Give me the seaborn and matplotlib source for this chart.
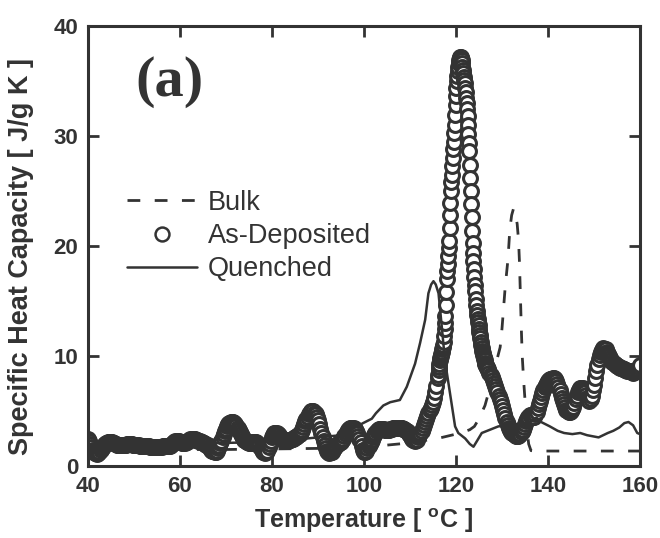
import numpy as np
import matplotlib
matplotlib.use("Agg")
import matplotlib.pyplot as plt
from matplotlib.lines import Line2D
import seaborn as sns

# ---------------- data ----------------
x_ticks = [40, 60, 80, 100, 120, 140, 160]
y_ticks = [0, 10, 20, 30, 40]
series_names = ["Bulk", "As-Deposited", "Quenched"]

bulk_T = [40, 50, 60, 70, 80, 90, 100, 105, 110, 113, 116, 119, 121, 123, 124, 125,
          126.3, 127.5, 128.5, 129.6, 130.0, 130.7, 131.3, 131.7, 132.1, 132.5, 132.9,
          133.3, 133.6, 133.8, 134.0, 134.2, 134.4, 134.7, 135.0, 135.4, 135.8, 136.3,
          137, 145, 160]
bulk_cp = [1.5, 1.5, 1.5, 1.5, 1.55, 1.6, 1.75, 1.9, 2.1, 2.3, 2.5, 2.8, 3.0, 3.3, 3.6, 4.3,
           5.5, 7.3, 9.0, 10.8, 12.5, 16.3, 18.8, 21.5, 22.8, 23.4, 23.0,
           22.0, 20.5, 18.5, 15.5, 12.5, 10.0, 7.8, 6.0, 3.5, 2.0, 1.4,
           1.36, 1.36, 1.36]

quen_T = [40, 60, 80, 95, 99.8, 101.7, 102.6, 104.2, 105.7, 107.8, 109.3, 111.1, 112.2,
          113.3, 114.0, 114.6, 115.1, 115.6, 116.2, 116.9, 117.6, 118.7, 119.8, 120.5,
          122.0, 123.0, 123.8, 124.6, 125.6, 127.4, 129.2, 131.0, 133.2, 135.3, 137.5,
          138.5, 140.4, 142.1, 143.5, 145.3, 147.0, 148.5, 151.0, 153.0, 154.2, 155.5,
          156.6, 157.5, 158.5, 159.4, 160.0]
quen_cp = [2.0, 2.0, 2.2, 2.8, 3.9, 4.3, 4.8, 5.5, 5.8, 6.0, 7.2, 9.3, 11.2,
           13.3, 15.7, 16.5, 16.8, 16.5, 15.7, 12.7, 9.6, 6.6, 3.6, 3.0,
           2.5, 2.0, 1.75, 2.3, 3.0, 3.3, 3.6, 3.7, 3.8, 3.8, 4.4,
           4.0, 3.6, 3.2, 3.0, 2.9, 3.0, 2.8, 2.6, 3.0, 3.2, 3.5,
           3.9, 4.0, 3.7, 3.0, 2.9]

# As-Deposited: 40.00-115.75 every 0.25 C (one row per degree)
asdep_cp_low = [
    2.5, 2.3, 2.0, 1.75,   1.5, 1.35, 1.2, 1.15,   1.1, 1.2, 1.3, 1.45,
    1.6, 1.75, 1.9, 2.0,   2.1, 2.15, 2.2, 2.2,    2.2, 2.15, 2.1, 2.05,
    2.0, 1.95, 1.9, 1.9,   1.9, 1.9, 1.9, 1.9,     1.9, 1.95, 2.0, 2.0,
    2.0, 2.0, 2.0, 1.95,   1.9, 1.9, 1.9, 1.9,     1.9, 1.85, 1.8, 1.8,
    1.8, 1.8, 1.8, 1.8,    1.8, 1.8, 1.75, 1.7,    1.7, 1.7, 1.7, 1.7,
    1.7, 1.7, 1.7, 1.7,    1.75, 1.8, 1.8, 1.8,    1.8, 1.8, 1.8, 1.85,
    1.9, 2.0, 2.1, 2.2,    2.3, 2.3, 2.3, 2.25,    2.2, 2.15, 2.1, 2.1,
    2.1, 2.15, 2.2, 2.3,   2.4, 2.45, 2.5, 2.5,    2.5, 2.45, 2.4, 2.35,
    2.3, 2.25, 2.2, 2.15,  2.1, 2.05, 2.0, 1.95,   1.9, 1.75, 1.6, 1.5,
    1.4, 1.35, 1.3, 1.3,   1.4, 1.6, 1.8, 2.05,    2.3, 2.6, 2.9, 3.15,
    3.4, 3.6, 3.8, 3.9,    4.0, 4.0, 4.0, 3.9,     3.8, 3.65, 3.5, 3.3,
    3.1, 2.9, 2.7, 2.55,   2.4, 2.3, 2.2, 2.15,    2.1, 2.1, 2.1, 2.15,
    2.2, 2.2, 2.2, 2.1,    2.0, 1.8, 1.6, 1.45,    1.3, 1.25, 1.2, 1.3,
    1.4, 1.7, 2.0, 2.3,    2.6, 2.8, 3.0, 3.0,     3.0, 2.9, 2.8, 2.65,
    2.5, 2.45, 2.4, 2.35,  2.3, 2.3, 2.3, 2.35,    2.4, 2.45, 2.5, 2.55,
    2.6, 2.65, 2.7, 2.8,   2.9, 3.1, 3.3, 3.55,    3.8, 4.05, 4.3, 4.5,
    4.7, 4.85, 5.0, 5.0,   5.0, 4.85, 4.7, 4.45,   4.2, 3.8, 3.4, 3.0,
    2.6, 2.25, 1.9, 1.6,   1.4, 1.3, 1.2, 1.25,    1.3, 1.45, 1.6, 1.75,
    1.9, 2.0, 2.1, 2.15,   2.2, 2.35, 2.5, 2.7,    2.9, 3.1, 3.3, 3.4,
    3.5, 3.5, 3.5, 3.45,   3.4, 3.2, 3.0, 2.75,    2.5, 2.15, 1.8, 1.5,
    1.3, 1.3, 1.4, 1.6,    1.8, 2.0, 2.2, 2.4,     2.6, 2.8, 3.0, 3.15,
    3.3, 3.35, 3.4, 3.4,   3.4, 3.35, 3.3, 3.3,    3.3, 3.3, 3.3, 3.35,
    3.4, 3.45, 3.5, 3.5,   3.5, 3.5, 3.5, 3.5,     3.5, 3.45, 3.4, 3.35,
    3.3, 3.2, 3.1, 2.95,   2.8, 2.65, 2.5, 2.4,    2.3, 2.35, 2.4, 2.6,
    2.8, 3.0, 3.2, 3.45,   3.7, 4.0, 4.3, 4.55,    4.8, 5.05, 5.3, 5.55,
    5.8, 6.2, 6.7, 7.3]
# As-Deposited: 116.0-127.0 every 0.1 C (melting peak)
asdep_cp_peak = [8.0, 8.3, 8.7, 9.0, 9.3, 9.6, 9.8, 10.0, 10.2, 10.4,
                 10.6, 10.8, 11.0, 11.3, 11.8, 12.5, 13.0, 13.6, 14.6, 15.8,
                 17.0, 17.7, 18.4, 19.1, 19.8, 20.5, 21.6, 22.8, 23.9, 25.0,
                 25.8, 26.5, 27.3, 28.0, 28.8, 29.5, 30.3, 31.0, 31.9, 32.8,
                 33.6, 34.4, 35.0, 35.5, 35.9, 36.3, 36.6, 36.9, 37.1, 37.2,
                 37.2, 37.1, 36.9, 36.6, 36.3, 36.0, 35.7, 35.4, 35.1, 34.8,
                 34.4, 34.0, 33.5, 33.0, 32.5, 31.8, 31.0, 30.2, 29.4, 28.6,
                 27.4, 26.2, 25.0, 23.8, 22.6, 21.4, 20.3, 19.4, 18.6, 17.9,
                 17.2, 16.5, 15.9, 15.2, 14.6, 14.1, 13.7, 13.4, 13.1, 12.8,
                 12.5, 12.2, 11.9, 11.6, 11.3, 11.0, 10.7, 10.5, 10.3, 10.1,
                 9.9, 9.7, 9.6, 9.4, 9.3, 9.2, 9.1, 9.0, 8.9, 8.8, 8.7]
# As-Deposited: 127.25-160.0 every 0.25 C
asdep_cp_high = [
    8.5, 8.3, 8.05,
    7.8, 7.55, 7.3, 7.0,    6.7, 6.4, 6.1, 5.8,     5.5, 5.1, 4.7, 4.35,
    4.0, 3.75, 3.5, 3.3,    3.1, 3.0, 2.9, 2.8,     2.7, 2.7, 2.7, 2.8,
    2.9, 3.1, 3.3, 3.55,    3.8, 4.05, 4.3, 4.5,    4.6, 4.6, 4.5, 4.5,
    4.5, 4.7, 4.9, 5.25,    5.6, 5.95, 6.3, 6.6,    6.9, 7.15, 7.4, 7.55,
    7.7, 7.8, 7.9, 7.95,    8.0, 8.0, 7.9, 7.7,     7.5, 7.2, 6.9, 6.55,
    6.2, 5.9, 5.6, 5.35,    5.1, 5.0, 4.9, 4.95,    5.0, 5.2, 5.4, 5.75,
    6.1, 6.4, 6.7, 6.9,     7.1, 7.1, 7.1, 6.9,     6.7, 6.45, 6.2, 6.05,
    5.9, 6.1, 6.4, 6.9,     7.4, 8.0, 8.6, 9.15,    9.7, 10.05, 10.4, 10.55,
    10.7, 10.65, 10.6, 10.4, 10.2, 10.0, 9.8, 9.65, 9.5, 9.4, 9.3, 9.2,
    9.1, 9.05, 9.0, 8.95,   8.9, 8.85, 8.8, 8.75,   8.7, 8.65, 8.6, 8.6,
    8.6, 8.55, 8.5, 8.55,   8.6, 8.7, 8.8, 9.0,     9.2]

asdep_T = np.concatenate([40.0 + 0.25 * np.arange(len(asdep_cp_low)),
                          116.0 + 0.1 * np.arange(len(asdep_cp_peak)),
                          127.25 + 0.25 * np.arange(len(asdep_cp_high))])
asdep_cp = np.concatenate([asdep_cp_low, asdep_cp_peak, asdep_cp_high])

# ---------------- style ----------------
sns.set_style("ticks")
C = "#333333"
plt.rcParams["font.family"] = ["Liberation Sans", "DejaVu Sans"]
plt.rcParams["mathtext.fontset"] = "custom"
plt.rcParams["mathtext.rm"] = "Liberation Sans"
plt.rcParams["mathtext.bf"] = "Liberation Sans:bold"

fig = plt.figure(figsize=(6.6, 5.38), dpi=100)
ax = fig.add_axes([88 / 660, 1 - 466 / 538, 552 / 660, 440 / 538])

sns.scatterplot(x=asdep_T, y=asdep_cp, ax=ax, marker="o", s=100, color="white",
                edgecolor=C, linewidth=2.2, zorder=2, legend=False)
sns.lineplot(x=bulk_T, y=bulk_cp, ax=ax, color=C, lw=2.0, linestyle=(0, (4.6, 5.2)),
             sort=False, estimator=None, zorder=3)
sns.lineplot(x=quen_T, y=quen_cp, ax=ax, color=C, lw=1.8, sort=False,
             estimator=None, zorder=3)

ax.set_xlim(40, 160)
ax.set_ylim(0, 40)
ax.set_xticks(x_ticks)
ax.set_yticks(y_ticks)
ax.tick_params(direction="in", length=8, width=2, top=True, right=True,
               labelsize=16, pad=7, color=C, labelcolor=C)
for lbl in ax.get_xticklabels() + ax.get_yticklabels():
    lbl.set_fontweight("bold")
for sp in ax.spines.values():
    sp.set_linewidth(2.2)
    sp.set_color(C)

ax.set_xlabel(r"Temperature [ $^{\mathbf{o}}$C ]", fontsize=18, fontweight="bold",
              color=C, labelpad=7)
ax.set_ylabel("Specific Heat Capacity [ J/g K ]", fontsize=19.5, fontweight="bold",
              color=C)
ax.yaxis.set_label_coords(-0.098, 0.477)

ax.text(57.8, 34.9, "(a)", family=["Liberation Serif", "DejaVu Serif"], fontweight="bold",
        fontsize=42, ha="center", va="center", color=C)

handles = [
    Line2D([], [], color=C, lw=2.0, linestyle=(0, (4.6, 5.2))),
    Line2D([], [], color=C, ls="none", marker="o", mfc="white", mec=C, ms=10, mew=1.8),
    Line2D([], [], color=C, lw=1.8),
]
leg = ax.legend(handles, series_names, loc="upper left", bbox_to_anchor=(0.07, 0.628),
                frameon=False, fontsize=19.5, handlelength=2.6, handletextpad=0.4,
                labelspacing=0.27, borderpad=0, borderaxespad=0)
for t in leg.get_texts():
    t.set_color(C)

fig.savefig("out.png", dpi=100)
